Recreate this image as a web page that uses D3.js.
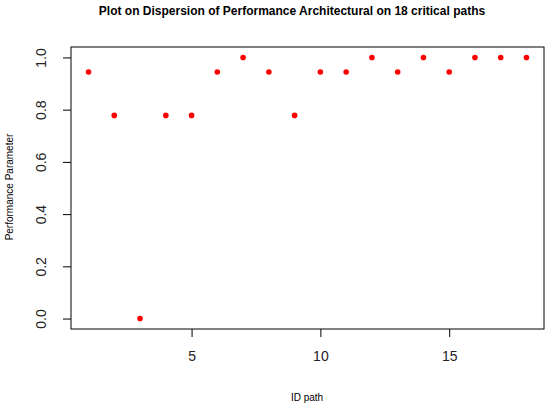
<!DOCTYPE html>
<html>
<head>
<meta charset="utf-8">
<script src="https://cdn.jsdelivr.net/npm/d3@7"></script>
<style>
  body { margin: 0; background: #fff; }
  svg { display: block; font-family: "Liberation Sans", Arial, sans-serif; }
</style>
</head>
<body>
<div id="chart"></div>
<script>
// Data
var ids = [1, 2, 3, 4, 5, 6, 7, 8, 9, 10, 11, 12, 13, 14, 15, 16, 17, 18];
var perf = [0.944, 0.778, 0, 0.778, 0.778, 0.944, 1, 0.944, 0.778, 0.944, 0.944, 1, 0.944, 1, 0.944, 1, 1, 1];
var xTicks = [5, 10, 15];
var yTicks = [0, 0.2, 0.4, 0.6, 0.8, 1.0];

var width = 550, height = 406;
var box = { left: 71, right: 544, top: 47, bottom: 329 };

var svg = d3.select("#chart").append("svg")
    .attr("width", width)
    .attr("height", height);

// R style: 4% padding on each side of the data range
var x = d3.scaleLinear().domain([0.32, 18.68]).range([box.left, box.right]);
var y = d3.scaleLinear().domain([-0.04, 1.04]).range([box.bottom, box.top]);

// Plot frame
svg.append("rect")
    .attr("x", box.left)
    .attr("y", box.top)
    .attr("width", box.right - box.left)
    .attr("height", box.bottom - box.top)
    .style("fill", "none")
    .style("stroke", "#000")
    .style("stroke-width", 1);

// X axis
var xAxis = svg.append("g")
    .attr("transform", "translate(0," + box.bottom + ")")
    .call(d3.axisBottom(x).tickValues(xTicks).tickSize(8).tickPadding(14).tickFormat(d3.format("d")));
xAxis.select(".domain").remove();
xAxis.selectAll("text")
    .style("font-size", "14px")
    .style("fill", "#222");

// Y axis, labels rotated like R's default
var yAxis = svg.append("g")
    .attr("transform", "translate(" + box.left + ",0)")
    .call(d3.axisLeft(y).tickValues(yTicks).tickSize(8).tickFormat(d3.format(".1f")));
yAxis.select(".domain").remove();
yAxis.selectAll("text")
    .attr("x", null)
    .attr("text-anchor", "middle")
    .attr("transform", "translate(-30,0) rotate(-90)")
    .attr("dy", "0.35em")
    .style("font-size", "14px")
    .style("fill", "#222");

// Points
svg.append("g")
    .selectAll("circle")
    .data(ids)
    .enter().append("circle")
    .attr("cx", function (d) { return x(d); })
    .attr("cy", function (d, i) { return y(perf[i]); })
    .attr("r", 2.8)
    .style("fill", "#ff0000");

// Title
svg.append("text")
    .attr("x", 292)
    .attr("y", 15)
    .attr("text-anchor", "middle")
    .style("font-weight", "bold")
    .style("font-size", "12px")
    .text("Plot on Dispersion of Performance Architectural on 18 critical paths");

// Axis titles
svg.append("text")
    .attr("x", 307)
    .attr("y", 401)
    .attr("text-anchor", "middle")
    .style("font-size", "10px")
    .text("ID path");

svg.append("text")
    .attr("transform", "translate(13,187) rotate(-90)")
    .attr("text-anchor", "middle")
    .style("font-size", "10px")
    .text("Performance Parameter");
</script>
</body>
</html>
